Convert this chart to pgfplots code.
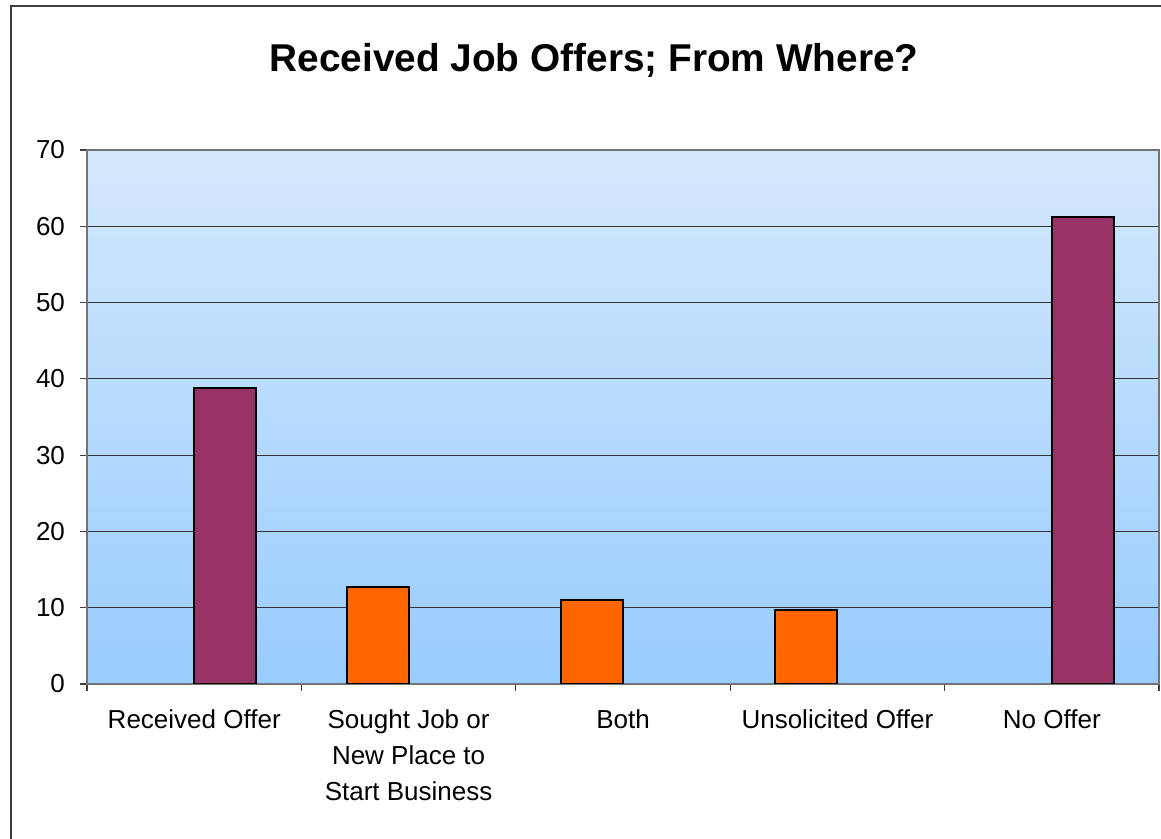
\documentclass[border=0pt]{standalone}
\usepackage{fontspec}
\setmainfont{Liberation Sans}
\usepackage{pgfplots}
\pgfplotsset{compat=1.18}
\definecolor{plum}{HTML}{993366}
\definecolor{orng}{HTML}{FF6600}
\definecolor{bgtop}{HTML}{D4E8FC}
\definecolor{bgbot}{HTML}{99CCFF}
\begin{document}
\begin{tikzpicture}
\path[use as bounding box] (0,0) rectangle (580.5pt,419.5pt);
\draw[line width=1pt, black!75] (5.5pt,-5pt) -- (5.5pt,416.5pt) -- (590pt,416.5pt);
\node[font=\bfseries\fontsize{19.4}{23}\selectfont] at (297pt,389.5pt) {Received Job Offers; From Where?};
\begin{axis}[
    at={(43.5pt,77.5pt)}, anchor=south west,
    scale only axis, width=536pt, height=267pt,
    ybar=0pt, bar width=31pt,
    xmin=-0.5, xmax=4.5, ymin=0, ymax=70,
    xtick={-0.5,0.5,1.5,2.5,3.5,4.5},
    x tick label as interval,
    xticklabels={Received Offer,{Sought Job or\\New Place to\\Start Business},Both,Unsolicited Offer,No Offer,},
    ytick={0,10,...,70},
    tick align=outside, tick pos=left,
    major tick length=3.5pt,
    tick style={black!75, line width=0.6pt},
    ymajorgrids, grid style={black!80, line width=0.6pt},
    axis line style={black!55, line width=0.7pt},
    axis background/.style={shade, top color=bgtop, bottom color=bgbot},
    /pgf/number format/assume math mode=true,
    tick label style={font=\fontsize{13}{18}\selectfont},
    x tick label style={align=center, yshift=-6pt},
    y tick label style={xshift=-4pt},
    every axis plot/.append style={draw=black, line width=1pt},
]
\addplot[fill=plum, bar shift=15.5pt] coordinates {(0,38.8) (4,61.2)};
\addplot[fill=orng, bar shift=-15.5pt] coordinates {(1,12.7) (2,11.0) (3,9.7)};
\end{axis}
\end{tikzpicture}
\end{document}
